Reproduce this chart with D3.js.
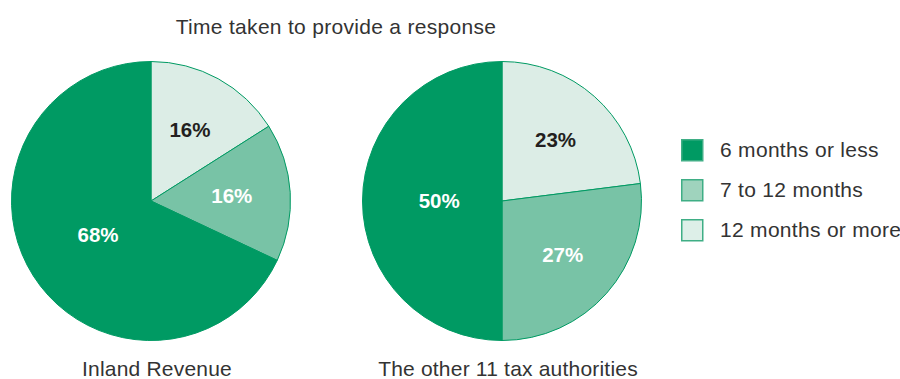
<!DOCTYPE html>
<html>
<head>
<meta charset="utf-8">
<script src="https://cdn.jsdelivr.net/npm/d3@7"></script>
<style>
  body { margin: 0; background: #fff; }
  svg { display: block; font-family: "Liberation Sans", Arial, sans-serif; }
</style>
</head>
<body>
<div id="chart"></div>
<script>
// categories, in drawing order (clockwise from 12 o'clock)
const categories = ["12 months or more", "7 to 12 months", "6 months or less"];
const legendOrder = ["6 months or less", "7 to 12 months", "12 months or more"];

// percentages per pie
const inlandRevenue = [16, 16, 68];
const otherAuthorities = [23, 27, 50];

const pieTitles = ["Inland Revenue", "The other 11 tax authorities"];
const chartTitle = "Time taken to provide a response";

const width = 900, height = 379;

const svg = d3.select("#chart").append("svg")
    .attr("width", width)
    .attr("height", height);

const fill = d3.scaleOrdinal()
    .domain(categories)
    .range(["#dcede6", "#78c3a6", "#009a63"]);

// legend uses slightly different swatch tints
const swatch = d3.scaleOrdinal()
    .domain(categories)
    .range(["#ddefe8", "#9fd3bd", "#009a63"]);

const textFill = d3.scaleOrdinal()
    .domain(categories)
    .range(["#231f20", "#ffffff", "#ffffff"]);

const labelColor = "#333333";

// title
svg.append("text")
    .attr("x", 336)
    .attr("y", 34)
    .attr("text-anchor", "middle")
    .attr("font-size", 21)
    .attr("letter-spacing", 0.3)
    .attr("fill", labelColor)
    .text(chartTitle);

const radius = 139.5;
const pie = d3.pie().sort(null).value(d => d.value);
const arc = d3.arc().innerRadius(0).outerRadius(radius);

function drawPie(values, cx, title) {
    const data = categories.map((c, i) => ({ key: c, value: values[i] }));
    const g = svg.append("g").attr("transform", `translate(${cx},201)`);

    const slices = pie(data);

    g.selectAll("path")
        .data(slices)
        .join("path")
        .attr("d", arc)
        .attr("fill", d => fill(d.data.key))
        .attr("stroke", "#009a63")
        .attr("stroke-width", 1);

    g.selectAll("text.pct")
        .data(slices)
        .join("text")
        .attr("class", "pct")
        .attr("transform", d => {
            // big slices get their label nearer the centre
            const r = d.data.value >= 50 ? radius * 0.45 : radius * 0.58;
            const a = (d.startAngle + d.endAngle) / 2;
            return `translate(${Math.sin(a) * r},${-Math.cos(a) * r})`;
        })
        .attr("dy", "0.35em")
        .attr("text-anchor", "middle")
        .attr("font-size", 20.5)
        .attr("font-weight", "bold")
        .attr("fill", d => textFill(d.data.key))
        .text(d => d.data.value + "%");

    svg.append("text")
        .attr("x", cx + 6)
        .attr("y", 376)
        .attr("text-anchor", "middle")
        .attr("font-size", 21)
        .attr("letter-spacing", 0.2)
        .attr("fill", labelColor)
        .text(title);
}

drawPie(inlandRevenue, 151, pieTitles[0]);
drawPie(otherAuthorities, 502, pieTitles[1]);

// legend
const legend = svg.append("g").attr("transform", "translate(681,139)");
const rows = legend.selectAll("g")
    .data(legendOrder)
    .join("g")
    .attr("transform", (d, i) => `translate(0,${i * 40})`);

rows.append("rect")
    .attr("x", 0.75)
    .attr("y", 0.75)
    .attr("width", 21)
    .attr("height", 21)
    .attr("fill", d => swatch(d))
    .attr("stroke", "#3fae85")
    .attr("stroke-width", 1.5);

rows.append("text")
    .attr("x", 39)
    .attr("y", 18)
    .attr("font-size", 21)
    .attr("letter-spacing", 0.3)
    .attr("fill", labelColor)
    .text(d => d);
</script>
</body>
</html>
